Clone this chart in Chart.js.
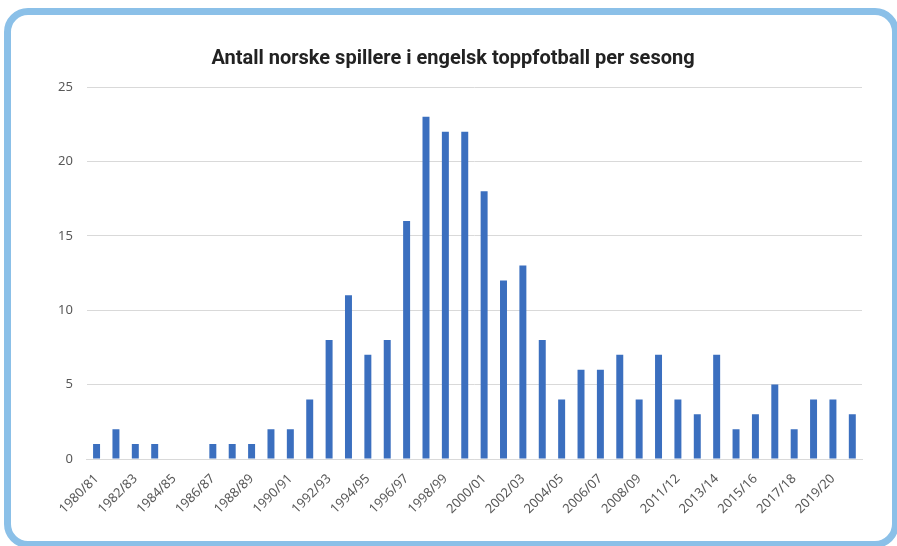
<!DOCTYPE html>
<html>
<head>
<meta charset="utf-8">
<script src="https://cdn.jsdelivr.net/npm/chart.js@4"></script>
<style>
  html, body { margin: 0; padding: 0; width: 897px; height: 546px; overflow: hidden; background: #fff; }
  .frame {
    position: absolute; left: 4px; top: 8px; width: 895px; height: 540px;
    box-sizing: border-box; border: 7px solid #8bc0e8; border-radius: 24px;
  }
  .wrap { position: absolute; left: 0; top: 0; width: 897px; height: 546px; }
</style>
</head>
<body>
<div class="frame"></div>
<div class="wrap"><canvas id="chart"></canvas></div>
<script>
// Antall norske spillere per sesong
const seasons = [
  '1980/81', '1981/82', '1982/83', '1983/84', '1984/85', '1985/86', '1986/87', '1987/88',
  '1988/89', '1989/90', '1990/91', '1991/92', '1992/93', '1993/94', '1994/95', '1995/96',
  '1996/97', '1997/98', '1998/99', '1999/00', '2000/01', '2001/02', '2002/03', '2003/04',
  '2004/05', '2005/06', '2006/07', '2007/08', '2008/09', '2009/10', '2011/12', '2012/13',
  '2013/14', '2014/15', '2015/16', '2016/17', '2017/18', '2018/19', '2019/20', '2020/21'
];
const players = [
  1, 2, 1, 1, 0, 0, 1, 1,
  1, 2, 2, 4, 8, 11, 7, 8,
  16, 23, 22, 22, 18, 12, 13, 8,
  4, 6, 6, 7, 4, 7, 4, 3,
  7, 2, 3, 5, 2, 4, 4, 3
];
const yTicks = [0, 5, 10, 15, 20, 25];

const ctx = document.getElementById('chart');
new Chart(ctx, {
  type: 'bar',
  data: {
    labels: seasons,
    datasets: [{
      data: players,
      backgroundColor: '#3b6fbf',
      barPercentage: 0.9,
      categoryPercentage: 0.4
    }]
  },
  options: {
    responsive: true, maintainAspectRatio: false, animation: false,
    layout: { padding: { left: 44, right: 35, top: 47, bottom: 17 } },
    plugins: {
      legend: { display: false },
      tooltip: { enabled: false },
      title: {
        display: true,
        text: 'Antall norske spillere i engelsk toppfotball per sesong',
        color: '#222',
        font: { family: 'Roboto', size: 20, weight: 'bold' },
        padding: { top: 0, bottom: 16 }
      }
    },
    scales: {
      x: {
        grid: { display: false, drawTicks: false },
        border: { display: true, color: '#d9d9d9' },
        ticks: {
          autoSkip: false, maxRotation: 45, minRotation: 45,
          color: '#595959', padding: 12,
          font: { family: 'Noto Sans', size: 13 },
          callback: function(v, i) { return i % 2 === 0 ? seasons[i] : ''; }
        }
      },
      y: {
        min: 0, max: 25,
        afterBuildTicks: axis => { axis.ticks = yTicks.map(v => ({ value: v })); },
        grid: { color: '#d9d9d9', drawTicks: false },
        border: { display: false },
        ticks: {
          color: '#595959', padding: 14,
          font: { family: 'Noto Sans', size: 13 }
        }
      }
    }
  }
});
</script>
</body>
</html>
